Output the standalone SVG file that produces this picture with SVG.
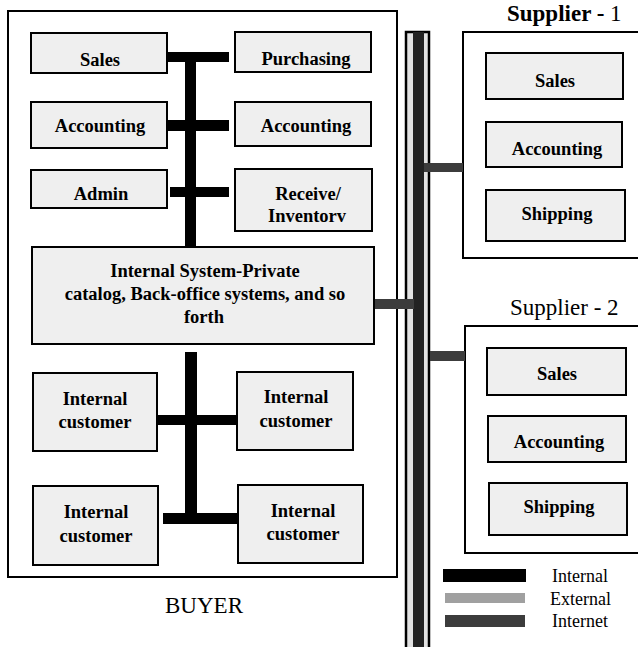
<svg xmlns="http://www.w3.org/2000/svg" width="638" height="647" viewBox="0 0 638 647">
<style>
.box{fill:#efefef;stroke:#000;stroke-width:2}
.frame{fill:#fff;stroke:#000;stroke-width:2}
.lbl{font-family:"Liberation Serif","Times New Roman",serif;font-size:18.5px;font-weight:bold;text-anchor:middle;fill:#000}
.big{font-family:"Liberation Serif","Times New Roman",serif;font-size:23px;fill:#000}
.leg{font-family:"Liberation Serif","Times New Roman",serif;font-size:18px;fill:#000}
.int{fill:#000}
.net{fill:#3c3c3c}
</style>
<rect width="638" height="647" fill="#fff"/>

<g id="buyer">
<rect class="frame" x="8" y="11" width="389" height="566"/>
<text class="big" x="204" y="613" text-anchor="middle" font-size="24">BUYER</text>
</g>

<g id="supplier1">
<rect class="frame" x="463" y="32" width="185" height="226"/>
<text class="big" x="507" y="21"><tspan font-weight="bold">Supplier -</tspan> 1</text>
</g>

<g id="supplier2">
<rect class="frame" x="465" y="326" width="185" height="227"/>
<text class="big" x="510" y="315">Supplier - 2</text>
</g>

<g id="connectors">
<rect class="int" x="185" y="52" width="11" height="195"/>
<rect class="int" x="167" y="52" width="62" height="10"/>
<rect class="int" x="167" y="120" width="62" height="11"/>
<rect class="int" x="170" y="187" width="59" height="10"/>
<rect class="int" x="185" y="352" width="12" height="172"/>
<rect class="int" x="155" y="415" width="83" height="10"/>
<rect class="int" x="163" y="513" width="75" height="11"/>
<g id="backbone">
<rect x="406" y="32" width="23" height="620" fill="#e2e2e2" stroke="#000" stroke-width="2.5"/>
<rect x="413" y="32" width="11" height="620" fill="#222"/>
</g>
<rect class="net" x="374" y="299" width="40" height="10"/>
<rect class="net" x="424" y="163" width="39" height="9"/>
<rect class="net" x="430" y="351" width="35" height="10"/>
</g>

<g id="sales"><rect class="box" x="31" y="33" width="136" height="40"/><text class="lbl" x="100" y="66">Sales</text></g>
<g id="purchasing"><rect class="box" x="235" y="32" width="136" height="40"/><text class="lbl" x="306" y="65">Purchasing</text></g>
<g id="accounting-left"><rect class="box" x="31" y="102" width="136" height="46"/><text class="lbl" x="100" y="132">Accounting</text></g>
<g id="accounting-right"><rect class="box" x="235" y="102" width="136" height="44"/><text class="lbl" x="306" y="132">Accounting</text></g>
<g id="admin"><rect class="box" x="31" y="170" width="136" height="38"/><text class="lbl" x="101" y="200">Admin</text></g>
<g id="receive"><rect class="box" x="235" y="169" width="137" height="62"/><text class="lbl" x="308" y="200">Receive/</text><text class="lbl" x="307" y="222">Inventorv</text></g>
<g id="internal-system"><rect class="box" x="32" y="247" width="342" height="97"/>
<text class="lbl" x="205" y="277">Internal System-Private</text>
<text class="lbl" x="205" y="300">catalog, Back-office systems, and so</text>
<text class="lbl" x="204" y="323">forth</text></g>
<g id="internal-customer-1"><rect class="box" x="33" y="373" width="124" height="78"/><text class="lbl" x="95" y="405">Internal</text><text class="lbl" x="95" y="428">customer</text></g>
<g id="internal-customer-2"><rect class="box" x="237" y="372" width="116" height="78"/><text class="lbl" x="296" y="403">Internal</text><text class="lbl" x="296" y="427">customer</text></g>
<g id="internal-customer-3"><rect class="box" x="33" y="486" width="125" height="79"/><text class="lbl" x="96" y="518">Internal</text><text class="lbl" x="96" y="542">customer</text></g>
<g id="internal-customer-4"><rect class="box" x="238" y="485" width="125" height="78"/><text class="lbl" x="303" y="517">Internal</text><text class="lbl" x="303" y="540">customer</text></g>

<g id="s1-sales"><rect class="box" x="486" y="53" width="137" height="46"/><text class="lbl" x="555" y="87">Sales</text></g>
<g id="s1-accounting"><rect class="box" x="486" y="122" width="136" height="45"/><text class="lbl" x="557" y="155">Accounting</text></g>
<g id="s1-shipping"><rect class="box" x="486" y="190" width="139" height="51"/><text class="lbl" x="557" y="220">Shipping</text></g>
<g id="s2-sales"><rect class="box" x="487" y="348" width="139" height="47"/><text class="lbl" x="557" y="380">Sales</text></g>
<g id="s2-accounting"><rect class="box" x="488" y="416" width="138" height="46"/><text class="lbl" x="559" y="448">Accounting</text></g>
<g id="s2-shipping"><rect class="box" x="489" y="483" width="138" height="52"/><text class="lbl" x="559" y="513">Shipping</text></g>

<g id="legend">
<rect x="443" y="569" width="83" height="13" fill="#000"/>
<rect x="445" y="593" width="80" height="10" fill="#a0a0a0"/>
<rect x="445" y="615" width="80" height="12" fill="#3c3c3c"/>
<text class="leg" x="552" y="582">Internal</text>
<text class="leg" x="550" y="605">External</text>
<text class="leg" x="552" y="627">Internet</text>
</g>
</svg>
